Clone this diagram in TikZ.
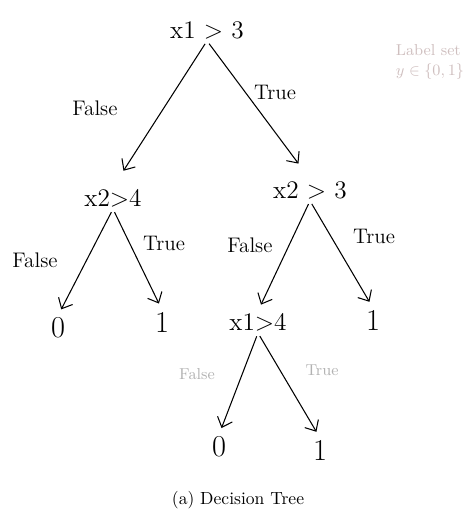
\documentclass[tikz,border=0pt]{standalone}
\usepackage{amsmath}
\usepackage{tikz}
\usetikzlibrary{arrows.meta,positioning,calc}

\begin{document}
\begin{tikzpicture}[
    x=0.02cm, y=-0.02cm,
    test/.style={font=\Large, inner sep=1pt},
    leaf/.style={font=\LARGE, inner sep=1pt},
    lab/.style={font=\large, inner sep=1pt},
    faint/.style={font=\small, inner sep=1pt, text=black!30},
    arrow/.style={-{Straight Barb[length=5pt,width=9pt]}, semithick, shorten <=2pt, shorten >=4pt}
]
\useasboundingbox (0,0) rectangle (476,522);
\node[test] (root) at (207,30) {x1 > 3};
\node[test] (x2a) at (113,198) {x2>4};
\node[test] (x2b) at (310,190) {x2 > 3};
\node[leaf] (l1) at (58,328) {0};
\node[leaf] (l2) at (162,322) {1};
\node[test] (x1b) at (258,322) {x1>4};
\node[leaf] (l3) at (373,320) {1};
\node[leaf] (l4) at (219,447) {0};
\node[leaf] (l5) at (320,450) {1};
\node[lab] (f1) at (95,108) {False};
\node[lab] (t1) at (275,92) {True};
\node[lab] (f2) at (35,260) {False};
\node[lab] (t2) at (164,243) {True};
\node[lab] (f3) at (250,245) {False};
\node[lab] (t3) at (374,236) {True};
\node[faint] (f4) at (197,374) {False};
\node[faint] (t4) at (322,370) {True};
\node[font=\small, text=red!25!black!25, align=left] (note) at (430,62) {Label set\\$y\in\{0,1\}$};
\node (cap) at (238,500) {(a) Decision Tree};
\draw[arrow, shorten >=11pt] (root.south) -- (x2a.north);
\draw[arrow, shorten >=11pt] (root.south) -- (x2b.north);
\draw[arrow] (x2a.south) -- (l1.north);
\draw[arrow] (x2a.south) -- (l2.north);
\draw[arrow] (x2b.south) -- (x1b.north);
\draw[arrow] (x2b.south) -- (l3.north);
\draw[arrow] (x1b.south) -- (l4.north);
\draw[arrow] (x1b.south) -- (l5.north);
\end{tikzpicture}
\end{document}
